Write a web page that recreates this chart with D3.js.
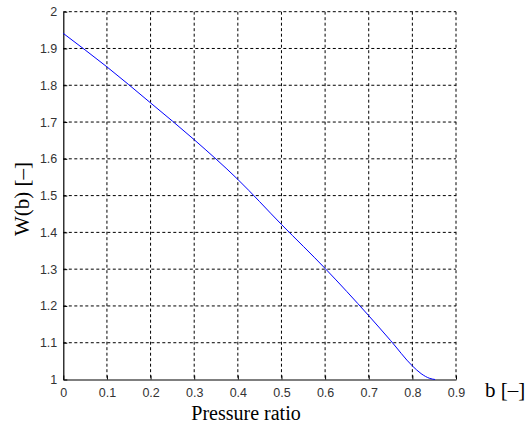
<!DOCTYPE html>
<html>
<head>
<meta charset="utf-8">
<script src="https://cdn.jsdelivr.net/npm/d3@7"></script>
<style>
  body { margin: 0; background: white; }
  svg { display: block; }
</style>
</head>
<body>
<div id="chart"></div>
<script>
// values
var pressureRatio = [0, 0.05, 0.1, 0.2, 0.3, 0.4, 0.5, 0.6, 0.7, 0.75, 0.8, 0.82, 0.84, 0.852];
var wValues = [1.941, 1.896, 1.85, 1.752, 1.652, 1.544, 1.4215, 1.302, 1.1735, 1.106, 1.037, 1.016, 1.003, 1.0];
var xTicks = [0, 0.1, 0.2, 0.3, 0.4, 0.5, 0.6, 0.7, 0.8, 0.9];
var yTicks = [1, 1.1, 1.2, 1.3, 1.4, 1.5, 1.6, 1.7, 1.8, 1.9, 2];

var width = 531, height = 432;
//plot box edges (named so they don't clash with window.top)
var plotLeft = 63.3, plotRight = 456, plotTop = 11.7, plotBottom = 379.5;

var svg = d3.select("#chart").append("svg")
    .attr("width", width).attr("height", height);

var x = d3.scaleLinear().domain([0, 0.9]).range([plotLeft, plotRight]);
var y = d3.scaleLinear().domain([1, 2]).range([plotBottom, plotTop]);

//dashed grid
svg.append("g").selectAll("line")
    .data(xTicks.slice(1))
    .enter().append("line")
    .attr("x1", function(d) { return x(d); }).attr("x2", function(d) { return x(d); })
    .attr("y1", plotTop).attr("y2", plotBottom)
    .attr("stroke", "#000").attr("stroke-width", 1).attr("stroke-dasharray", "3,2.5");

svg.append("g").selectAll("line")
    .data(yTicks.slice(1))
    .enter().append("line")
    .attr("y1", function(d) { return y(d); }).attr("y2", function(d) { return y(d); })
    .attr("x1", plotLeft).attr("x2", plotRight)
    .attr("stroke", "#000").attr("stroke-width", 1).attr("stroke-dasharray", "3,2.5");

//axes: ticks point inward, like matlab
var xAxis = d3.axisBottom(x).tickValues(xTicks).tickSizeInner(-4).tickSizeOuter(0).tickPadding(9)
    .tickFormat(function(d) { return d === 0 ? "0" : d3.format(".1f")(d); });
var yAxis = d3.axisLeft(y).tickValues(yTicks).tickSizeInner(-4).tickSizeOuter(0).tickPadding(6)
    .tickFormat(function(d) { return (d === 1 || d === 2) ? String(d) : d3.format(".1f")(d); });

var gx = svg.append("g").attr("transform", "translate(0," + plotBottom + ")").call(xAxis);
var gy = svg.append("g").attr("transform", "translate(" + plotLeft + ",0)").call(yAxis);

[gx, gy].forEach(function(g) {
    g.select(".domain").attr("stroke", "#000").attr("stroke-width", 1.2);
    g.selectAll(".tick line").attr("stroke", "#000");
    g.selectAll(".tick text")
        .attr("font-family", "Liberation Sans, Arial, sans-serif")
        .attr("font-size", "12.5px")
        .attr("fill", "#333");
});

//the curve
var line = d3.line()
    .x(function(d, i) { return x(pressureRatio[i]); })
    .y(function(d) { return y(d); })
    .curve(d3.curveMonotoneX);

svg.append("path")
    .datum(wValues)
    .attr("d", line)
    .attr("fill", "none")
    .attr("stroke", "#0000ff")
    .attr("stroke-width", 1);

//labels
svg.append("text")
    .attr("x", 246).attr("y", 420)
    .attr("text-anchor", "middle")
    .attr("font-family", "Liberation Serif, Times New Roman, serif")
    .attr("font-size", "20px")
    .text("Pressure ratio");

svg.append("text")
    .attr("x", 485).attr("y", 397)
    .attr("font-family", "Liberation Serif, Times New Roman, serif")
    .attr("font-size", "21px")
    .text("b [\u2013]");

svg.append("text")
    .attr("transform", "translate(29,199) rotate(-90)")
    .attr("text-anchor", "middle")
    .attr("font-family", "Liberation Serif, Times New Roman, serif")
    .attr("font-size", "21px")
    .text("W(b) [\u2013]");
</script>
</body>
</html>
